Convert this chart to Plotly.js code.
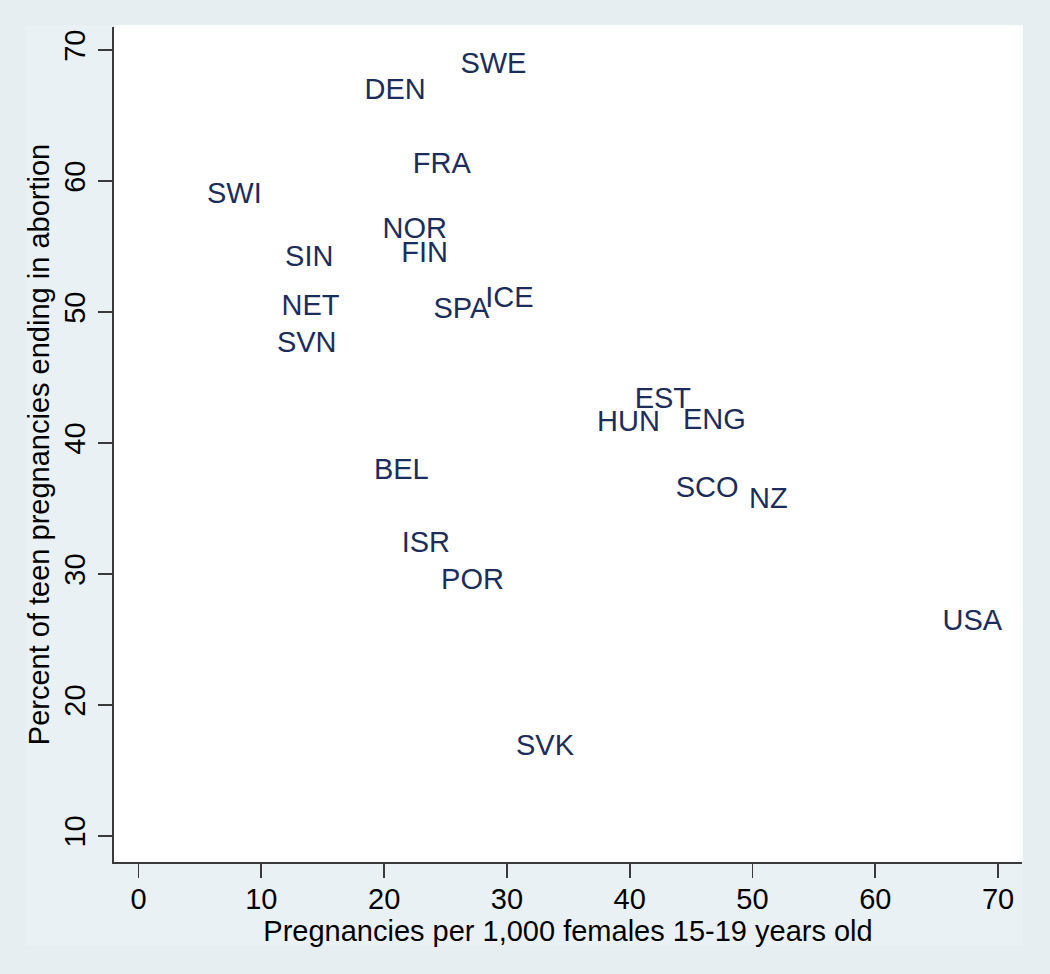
<!DOCTYPE html>
<html>
<head>
<meta charset="utf-8">
<script src="https://cdn.plot.ly/plotly-3.0.1.min.js"></script>
<style>
  html, body { margin: 0; padding: 0; background: #e7eef1; }
  #chart { width: 1050px; height: 974px; }
</style>
</head>
<body>
<div id="chart"></div>
<script>
// Country codes
const countries = ["SWE","DEN","FRA","SWI","NOR","SIN","FIN","NET","SPA","ICE","SVN",
                   "EST","HUN","ENG","BEL","SCO","NZ","ISR","POR","USA","SVK"];
// Pregnancies per 1,000 females 15-19 years old
const pregRate = [28.9, 20.9, 24.7, 7.8, 22.5, 13.9, 23.3, 14.0, 26.3, 30.2, 13.7,
                  42.7, 39.9, 46.9, 21.4, 46.3, 51.3, 23.4, 27.2, 67.9, 33.1];
// Percent of teen pregnancies ending in abortion
const abortionPct = [68.8, 66.8, 61.2, 58.9, 56.2, 54.1, 54.4, 50.3, 50.1, 50.9, 47.5,
                     43.2, 41.5, 41.6, 37.8, 36.4, 35.6, 32.2, 29.4, 26.3, 16.7];
const xTicks = [0, 10, 20, 30, 40, 50, 60, 70];
const yTicks = [10, 20, 30, 40, 50, 60, 70];

const FONT = "Liberation Sans, Arial, sans-serif";

const trace = {
  type: "scatter",
  mode: "text",
  x: pregRate,
  y: abortionPct,
  text: countries,
  textposition: "middle center",
  textfont: { family: FONT, size: 29, color: "#1c2d5c" },
  hoverinfo: "text",
  showlegend: false,
  cliponaxis: false
};

const axisCommon = {
  showgrid: false,
  zeroline: false,
  showline: true,
  linecolor: "#3a3a3a",
  linewidth: 1.6,
  ticks: "outside",
  ticklen: 14,
  tickwidth: 1.8,
  tickcolor: "#3a3a3a",
  tickfont: { family: FONT, size: 29, color: "#000000" },
  automargin: false,
  mirror: false
};

const layout = {
  width: 1050,
  height: 974,
  margin: { l: 114, r: 28, t: 27, b: 112, pad: 0 },
  paper_bgcolor: "#e7eef1",
  plot_bgcolor: "rgba(0,0,0,0)",
  font: { family: FONT, color: "#000000" },
  xaxis: Object.assign({}, axisCommon, {
    range: [-2.0, 71.95],
    tickmode: "array",
    tickvals: xTicks,
    ticktext: xTicks.map(String),
    ticklabelstandoff: -3,
    title: { text: "Pregnancies per 1,000 females 15-19 years old",
             font: { family: FONT, size: 29, color: "#000000" }, standoff: 2 }
  }),
  yaxis: Object.assign({}, axisCommon, {
    range: [8.0, 71.76],
    tickmode: "array",
    tickvals: yTicks,
    ticktext: yTicks.map(String),
    tickangle: -90,
    ticklabelstandoff: 2,
    title: { text: "Percent of teen pregnancies ending in abortion",
             font: { family: FONT, size: 29, color: "#000000" }, standoff: 0 }
  }),
  shapes: [
    { type: "rect", xref: "paper", yref: "paper", layer: "below",
      x0: -0.0969, x1: 1.001, y0: -0.0994, y1: 1.0024,
      fillcolor: "#eaf1f4", line: { width: 0 } },
    { type: "rect", xref: "paper", yref: "paper", layer: "below",
      x0: 0, x1: 1.001, y0: 0, y1: 1.0024,
      fillcolor: "#ffffff", line: { width: 0 } }
  ]
};

Plotly.newPlot("chart", [trace], layout, { displayModeBar: false, staticPlot: true });
</script>
</body>
</html>
